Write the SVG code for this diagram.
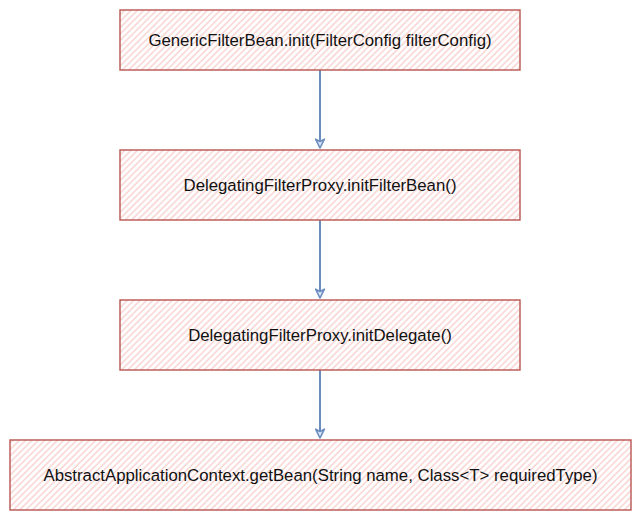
<svg xmlns="http://www.w3.org/2000/svg" width="641" height="521" viewBox="0 0 641 521">
<defs>
<pattern id="hatch" width="4.5" height="4.5" patternUnits="userSpaceOnUse" patternTransform="rotate(45)">
<line x1="1" y1="0" x2="1" y2="4.5" stroke="#f5c4c2" stroke-width="1.1"/>
</pattern>
<marker id="arr" viewBox="0 0 10 10" refX="9" refY="5" markerWidth="11" markerHeight="11" markerUnits="userSpaceOnUse" orient="auto">
<path d="M1,1 L9,5 L1,9 L3,5 Z" fill="#dae8fc" stroke="#6c8ebf" stroke-width="1.5" stroke-linejoin="round"/>
</marker>
</defs>
<style>
.box{fill:url(#hatch);stroke:#b85450;stroke-width:1.4}
.lbl{font-family:"Comic Sans MS","Liberation Sans",sans-serif;font-size:16.8px;fill:#111;text-anchor:middle}
.conn{stroke:#6c8ebf;stroke-width:2;fill:none;marker-end:url(#arr)}
</style>
<rect width="641" height="521" fill="#ffffff"/>
<g id="connectors">
<line class="conn" x1="320" y1="70" x2="320" y2="148"/>
<line class="conn" x1="320" y1="220" x2="320" y2="298"/>
<line class="conn" x1="320" y1="370" x2="320" y2="438"/>
</g>
<g id="n1">
<rect class="box" x="120" y="10" width="400" height="60"/>
<text class="lbl" x="320" y="46">GenericFilterBean.init(FilterConfig filterConfig)</text>
</g>
<g id="n2">
<rect class="box" x="120" y="150" width="400" height="70"/>
<text class="lbl" x="320" y="191">DelegatingFilterProxy.initFilterBean()</text>
</g>
<g id="n3">
<rect class="box" x="120" y="300" width="400" height="70"/>
<text class="lbl" x="320" y="341">DelegatingFilterProxy.initDelegate()</text>
</g>
<g id="n4">
<rect class="box" x="10" y="440" width="621" height="70"/>
<text class="lbl" x="320.5" y="481">AbstractApplicationContext.getBean(String name, Class&lt;T&gt; requiredType)</text>
</g>
</svg>
